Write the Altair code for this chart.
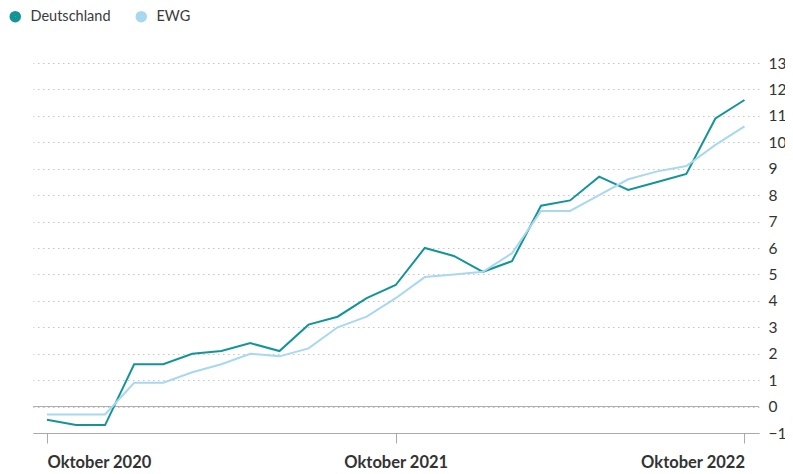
import altair as alt
import pandas as pd

months = ["2020-10", "2020-11", "2020-12", "2021-01", "2021-02", "2021-03", "2021-04",
          "2021-05", "2021-06", "2021-07", "2021-08", "2021-09", "2021-10", "2021-11",
          "2021-12", "2022-01", "2022-02", "2022-03", "2022-04", "2022-05", "2022-06",
          "2022-07", "2022-08", "2022-09", "2022-10"]
deutschland = [-0.5, -0.7, -0.7, 1.6, 1.6, 2.0, 2.1, 2.4, 2.1, 3.1, 3.4, 4.1, 4.6,
               6.0, 5.7, 5.1, 5.5, 7.6, 7.8, 8.7, 8.2, 8.5, 8.8, 10.9, 11.6]
ewg = [-0.3, -0.3, -0.3, 0.9, 0.9, 1.3, 1.6, 2.0, 1.9, 2.2, 3.0, 3.4, 4.1,
       4.9, 5.0, 5.1, 5.8, 7.4, 7.4, 8.0, 8.6, 8.9, 9.1, 9.9, 10.6]
series = ["Deutschland", "EWG"]
colors = ["#139497", "#a8d8f0"]
tick_idx = [0, 12, 24]
tick_labels = ["Oktober 2020", "Oktober 2021", "Oktober 2022"]
y_ticks = list(range(-1, 14))

rows = []
for i, m in enumerate(months):
    rows.append({"idx": i, "month": m, "series": series[0], "value": deutschland[i]})
    rows.append({"idx": i, "month": m, "series": series[1], "value": ewg[i]})
df = pd.DataFrame(rows)

label_expr = " : ".join(
    f"datum.value == {v} ? '{t}'" for v, t in zip(tick_idx, tick_labels)
) + " : ''"
align_expr = (f"datum.value == {tick_idx[0]} ? 'left' : "
              f"datum.value == {tick_idx[-1]} ? 'right' : 'center'")

FONT = "Lato"
y_scale = alt.Scale(domain=[-1, 13], nice=False, zero=False)

x_enc = alt.X("idx:Q",
              scale=alt.Scale(domain=[-0.48, 24.5], nice=False, zero=False),
              axis=alt.Axis(values=tick_idx, labelExpr=label_expr, title=None,
                            grid=False, domain=True, domainColor="#aaaaaa",
                            tickColor="#aaaaaa", tickSize=10, ticks=True,
                            labelFontSize=16.5, labelFontWeight="bold",
                            labelColor="#333333", labelPadding=11, labelFont=FONT,
                            labelAlign=alt.ExprRef(expr=align_expr),
                            labelOverlap=False))
y_axis = alt.Axis(orient="right", values=y_ticks, title=None,
                  grid=True, gridColor="#c4c4c4", gridDash=[1.5, 3.5],
                  gridWidth=1, domain=False, ticks=False,
                  labelFontSize=15.5, labelColor="#333333",
                  labelPadding=9, labelAlign="left", labelFont=FONT,
                  labelOverlap=False, labelBaseline="middle")
y_enc = alt.Y("value:Q", scale=y_scale, axis=y_axis)

lines = alt.Chart(df).mark_line(strokeWidth=2).encode(
    x=x_enc,
    y=y_enc,
    color=alt.Color("series:N",
                    scale=alt.Scale(domain=series, range=colors),
                    legend=alt.Legend(orient="none", legendX=-25, legendY=-54,
                                      direction="horizontal", title=None,
                                      symbolType="circle", symbolSize=36,
                                      symbolStrokeWidth=5.5, labelFontSize=14.5,
                                      labelColor="#3a3a3a", labelFont=FONT,
                                      columnPadding=16, labelOffset=8,
                                      symbolOpacity=1)),
    order=alt.Order("series:N", sort="descending"),
)

zero_df = pd.DataFrame({"value": [0]})
zero = alt.Chart(zero_df).mark_rule(color="#aaaaaa", strokeWidth=1).encode(
    y=y_enc
)

chart = alt.layer(zero, lines).properties(
    width=726, height=370,
    autosize=alt.AutoSizeParams(type="none"),
    padding={"left": 25, "top": 55, "right": 26, "bottom": 37},
).configure(font=FONT).configure_view(stroke=None)

chart.save("out.html", embed_options={"renderer": "svg", "actions": False})
